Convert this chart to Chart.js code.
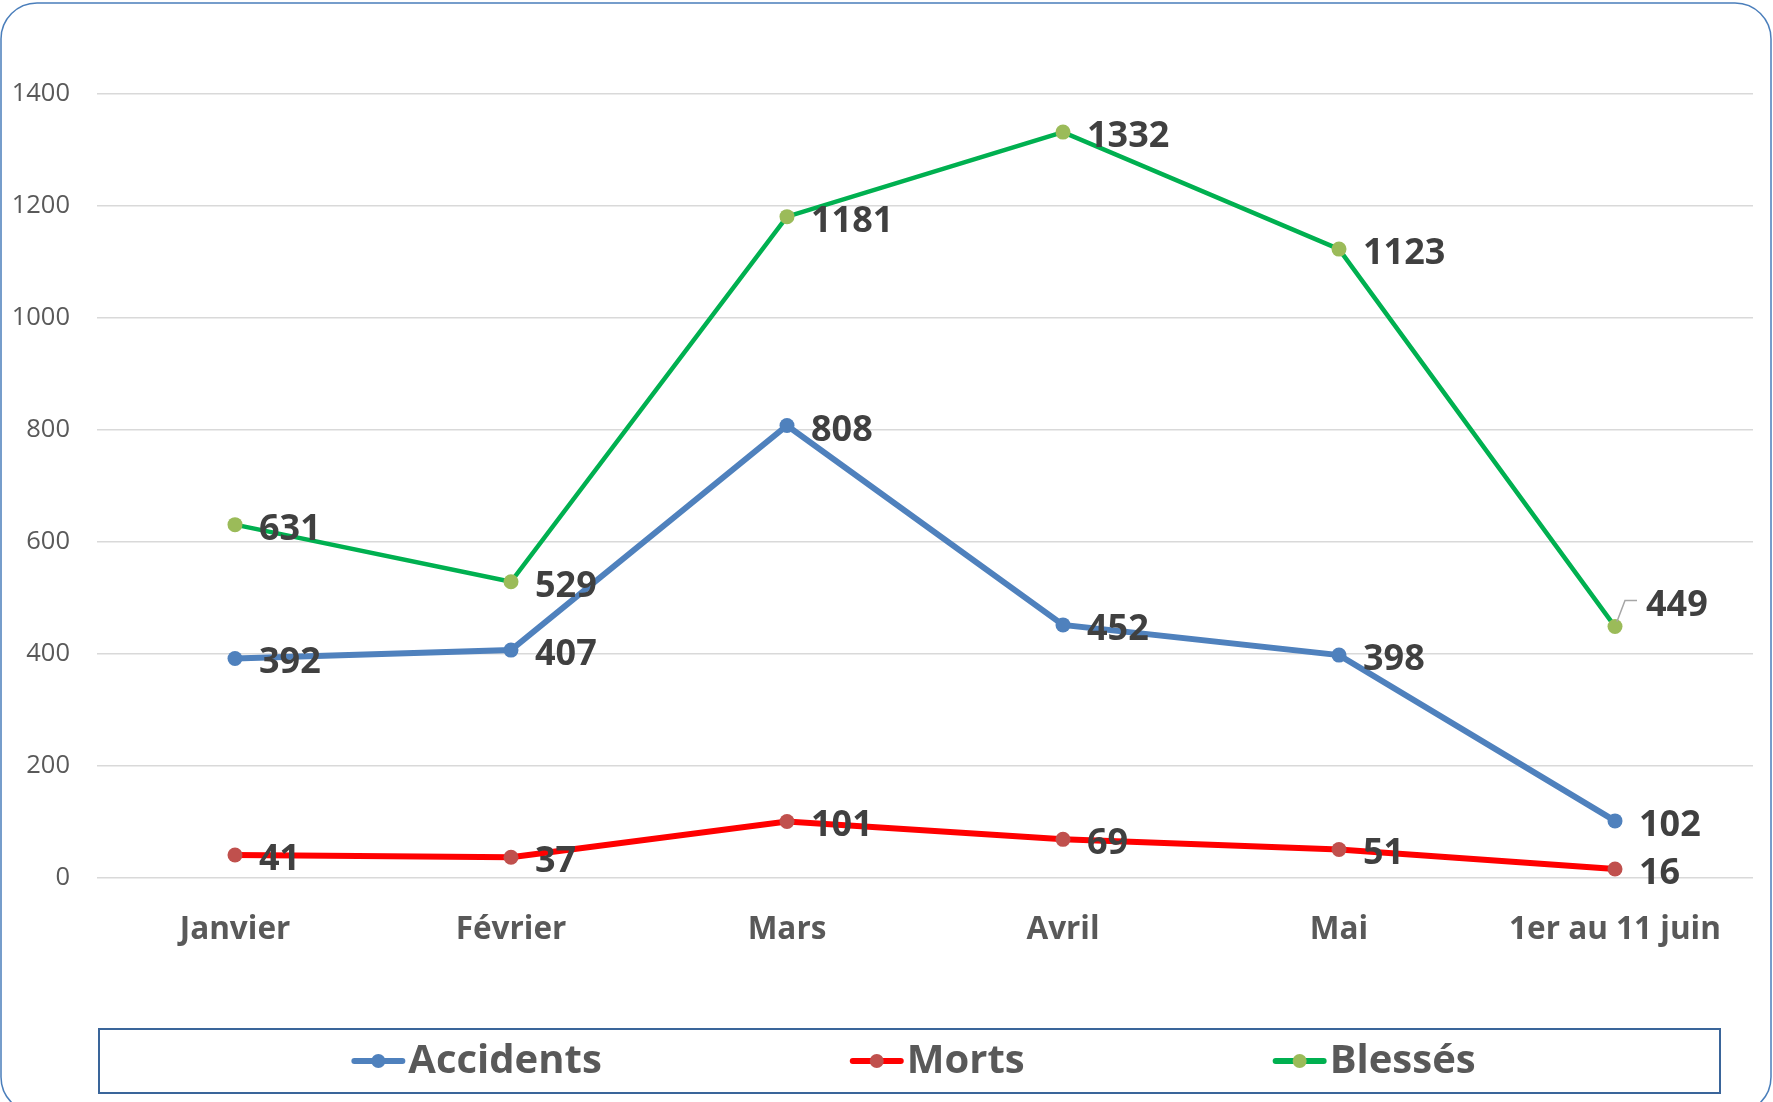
<!DOCTYPE html>
<html>
<head>
<meta charset="utf-8">
<script src="https://cdn.jsdelivr.net/npm/chart.js@4.4.1/dist/chart.umd.min.js"></script>
<style>
  html, body { margin: 0; padding: 0; background: #fff; }
  canvas { display: block; }
</style>
</head>
<body>
<canvas id="chart" width="1773" height="1102"></canvas>
<script>
// data
const months = ['Janvier', 'Février', 'Mars', 'Avril', 'Mai', '1er au 11 juin'];
const accidents = [392, 407, 808, 452, 398, 102];
const morts = [41, 37, 101, 69, 51, 16];
const blesses = [631, 529, 1181, 1332, 1123, 449];
const yTicks = [0, 200, 400, 600, 800, 1000, 1200, 1400];

const FONT = "'Open Sans', 'Liberation Sans', sans-serif";

// value labels next to each point
const valueLabels = {
    id: 'valueLabels',
    afterDatasetsDraw(chart) {
        const ctx = chart.ctx;
        ctx.save();
        ctx.font = 'bold 36px ' + FONT;
        ctx.fillStyle = '#404040';
        ctx.textAlign = 'left';
        ctx.textBaseline = 'alphabetic';
        chart.data.datasets.forEach((ds, i) => {
            chart.getDatasetMeta(i).data.forEach((pt, j) => {
                let dx = 24, dy = 15;
                // the last "Blessés" label sits above right, with a leader line
                if (i === 2 && j === ds.data.length - 1) {
                    dx = 31; dy = -11;
                    ctx.save();
                    ctx.strokeStyle = '#A6A6A6';
                    ctx.lineWidth = 1.5;
                    ctx.beginPath();
                    ctx.moveTo(pt.x + 2, pt.y - 5);
                    ctx.lineTo(pt.x + 10, pt.y - 26);
                    ctx.lineTo(pt.x + 22, pt.y - 26);
                    ctx.stroke();
                    ctx.restore();
                }
                ctx.fillText(String(ds.data[j]), pt.x + dx, pt.y + dy);
            });
        });
        ctx.restore();
    }
};

// frame, legend box and legend entries
const frame = {
    id: 'frame',
    beforeDraw(chart) {
        const ctx = chart.ctx;
        ctx.save();
        ctx.fillStyle = '#fff';
        ctx.fillRect(0, 0, chart.width, chart.height);
        ctx.restore();
    },
    afterDraw(chart) {
        const ctx = chart.ctx;
        ctx.save();
        // outer rounded border
        ctx.strokeStyle = '#4A7EBB';
        ctx.lineWidth = 1.5;
        ctx.beginPath();
        ctx.roundRect(1, 3, 1770, 1110, 36);
        ctx.stroke();

        // legend box
        const bx = 99, by = 1029, bw = 1621, bh = 64;
        ctx.strokeStyle = '#3A659A';
        ctx.lineWidth = 2;
        ctx.strokeRect(bx, by, bw, bh);

        ctx.font = 'bold 40px ' + FONT;
        const lineW = 54, gapText = 3, gapItem = 248;
        const items = chart.data.datasets.map(ds => ({
            label: ds.label, line: ds.borderColor, dot: ds.pointBackgroundColor,
            w: lineW + gapText + ctx.measureText(ds.label).width
        }));
        const total = items.reduce((s, it) => s + it.w, 0) + gapItem * (items.length - 1);
        let x = bx + bw / 2 - total / 2 + 4;
        const cy = by + bh / 2;
        items.forEach(it => {
            ctx.strokeStyle = it.line;
            ctx.lineWidth = 6;
            ctx.lineCap = 'round';
            ctx.beginPath();
            ctx.moveTo(x + 3, cy);
            ctx.lineTo(x + lineW - 3, cy);
            ctx.stroke();
            ctx.fillStyle = it.dot;
            ctx.beginPath();
            ctx.arc(x + lineW / 2, cy, 7, 0, Math.PI * 2);
            ctx.fill();
            ctx.fillStyle = '#595959';
            ctx.textBaseline = 'middle';
            ctx.fillText(it.label, x + lineW + gapText, cy + 1);
            x += it.w + gapItem;
        });
        ctx.restore();
    }
};

const config = {
    type: 'line',
    data: {
        labels: months,
        datasets: [
            {
                label: 'Accidents',
                data: accidents,
                borderColor: '#4F81BD',
                pointBackgroundColor: '#4F81BD',
                borderWidth: 6,
                order: 2
            },
            {
                label: 'Morts',
                data: morts,
                borderColor: '#FF0000',
                pointBackgroundColor: '#C0504D',
                borderWidth: 6,
                order: 1
            },
            {
                label: 'Blessés',
                data: blesses,
                borderColor: '#00B050',
                pointBackgroundColor: '#9BBB59',
                borderWidth: 4.5,
                order: 0
            }
        ].map(ds => Object.assign(ds, {
            pointRadius: 7.5,
            pointHoverRadius: 7.5,
            pointBorderWidth: 0,
            pointBorderColor: 'rgba(0,0,0,0)'
        }))
    },
    options: {
        responsive: false,
        animation: false,
        layout: { padding: { left: 0, right: 20, top: 94, bottom: 124 } },
        elements: {
            line: { tension: 0 }
        },
        plugins: {
            legend: { display: false },
            tooltip: { enabled: false }
        },
        scales: {
            x: {
                offset: true,
                grid: { display: false },
                border: { display: false },
                ticks: {
                    padding: 25,
                    color: '#595959',
                    font: { family: FONT, size: 31.5, weight: 'bold' },
                    maxRotation: 0
                },
                afterFit(s) { s.height = 100; }
            },
            y: {
                min: yTicks[0],
                max: yTicks[yTicks.length - 1],
                afterBuildTicks(s) { s.ticks = yTicks.map(v => ({ value: v })); },
                grid: { color: '#D9D9D9', lineWidth: 1.5, drawTicks: false },
                border: { display: false },
                ticks: {
                    padding: 27,
                    color: '#595959',
                    font: { family: FONT, size: 25.5 },
                    callback: v => String(v)
                },
                afterFit(s) { s.width = 97; }
            }
        }
    },
    plugins: [frame, valueLabels]
};

new Chart(document.getElementById('chart').getContext('2d'), config);
</script>
</body>
</html>
